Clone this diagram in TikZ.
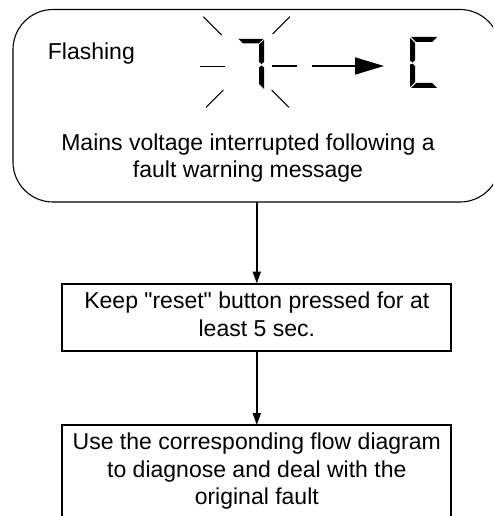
\documentclass[tikz,border=0pt]{standalone}
\usepackage{fontspec}
\setmainfont{Liberation Sans}
\usetikzlibrary{arrows.meta}
\begin{document}
\begin{tikzpicture}[x=1pt,y=-1pt,
  txt/.style={font=\fontsize{23}{27.5}\selectfont, align=center, inner sep=0pt},
  flowbox/.style={draw, line width=2pt, rectangle, inner sep=0pt, outer sep=0pt, minimum width=388.7pt},
  conn/.style={line width=1.7pt, -{Triangle[length=12pt,width=8pt]}},
  seg/.style={fill=black, draw=none},
  ray/.style={line width=1pt},
  hray/.style={line width=1.6pt}]
\useasboundingbox (0,0) rectangle (493,516);
\clip (0,0) rectangle (493,516);
% top rounded box
\node[draw, line width=1.1pt, rounded corners=40pt, minimum width=487pt, minimum height=192.5pt, inner sep=0pt, outer sep=0pt] (top) at (256.5,105.75) {};
\node[txt, anchor=base west] (flash) at (47.7,59.5) {Flashing};
\node[txt] (toptext) at (248,157.85) {Mains voltage interrupted following a\\fault warning message};
% flashing rays
\draw[ray] (203.3,16.7) -- (221.7,35);
\draw[ray] (290,16.7) -- (272.7,34);
\draw[ray] (223.3,90) -- (206,107.3);
\draw[ray] (271.7,90) -- (289,107.3);
\draw[hray] (200,66.5) -- (225,66.5);
\draw[hray] (271.7,66) -- (297,66);
% digit 7
\fill[seg] (238.5,39) -- (263.5,39) -- (258.5,43.5) -- (243,43.5) -- cycle;
\fill[seg] (264,40) -- (264,62) -- (261.5,64) -- (259,62) -- (259,44.5) -- cycle;
\fill[seg] (261.5,65.5) -- (264,67.5) -- (264,89) -- (259,84) -- (259,67.5) -- cycle;
% display arrow
\coordinate (dispA) at (311.7,66);
\coordinate (dispB) at (384,66);
\draw[line width=1.7pt, -{Triangle[length=29pt,width=17pt]}] (dispA) -- (dispB);
% digit C
\fill[seg] (411,37) -- (437,37) -- (432,42) -- (416,42) -- cycle;
\fill[seg] (410,38) -- (415,43) -- (415,60) -- (412.5,62.5) -- (410,60.5) -- cycle;
\fill[seg] (410,64.5) -- (412.5,63.7) -- (415,66) -- (415,82) -- (410,87) -- cycle;
\fill[seg] (411,88) -- (416,83) -- (432,83) -- (437,88) -- cycle;
% flow boxes
\node[flowbox, minimum height=67pt] (reset) at (256.8,317) {};
\node[txt] (resettext) at (256.8,314.1) {Keep \textquotedbl reset\textquotedbl\ button pressed for at\\least 5 sec.};
\node[flowbox, minimum height=115pt] (use) at (256.8,482.5) {};
\node[txt] (usetext) at (256.8,471.1) {Use the corresponding flow diagram\\to diagnose and deal with the\\original fault};
% connectors
\draw[conn] (top.south -| reset.north) -- (reset.north);
\draw[conn] (reset.south) -- (use.north);
\end{tikzpicture}
\end{document}
